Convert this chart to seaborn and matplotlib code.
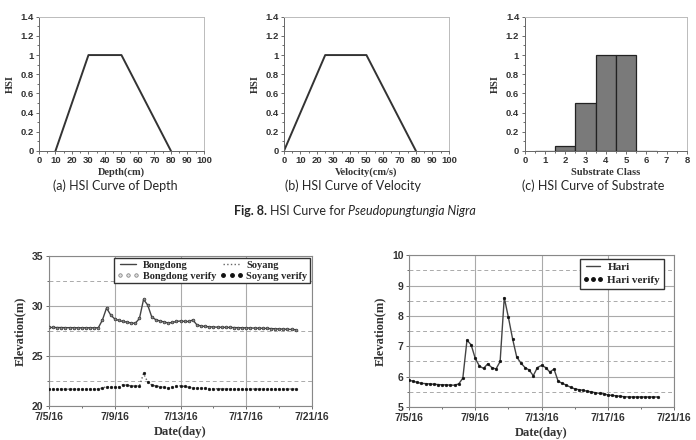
import numpy as np
import pandas as pd
import seaborn as sns
import matplotlib.pyplot as plt
import matplotlib.dates as mdates
from matplotlib.ticker import MultipleLocator, FuncFormatter
from matplotlib.lines import Line2D

sns.set_style("ticks")
plt.rcParams["font.family"] = ["Liberation Sans", "DejaVu Sans"]

# ---- HSI curves ----
depth_cm = [10, 30, 50, 80]
depth_hsi = [0, 1, 1, 0]
velocity_cms = [0, 25, 50, 80]
velocity_hsi = [0, 1, 1, 0]
substrate_class = [1, 2, 3, 4, 5, 6]
substrate_hsi = [0, 0.05, 0.5, 1.0, 1.0, 0]

# ---- water level verification (6-hourly from 7/5/16 00:00) ----
start_time = "2016-07-05 00:00"
bongdong = [27.85, 27.85, 27.84, 27.84, 27.83, 27.83, 27.83, 27.82, 27.82, 27.82, 27.82, 27.82, 27.82,
            28.6, 29.8, 29.1, 28.7, 28.55, 28.45, 28.38, 28.3, 28.27, 28.75, 30.65, 30.1, 28.9, 28.62,
            28.5, 28.4, 28.3, 28.35, 28.45, 28.5, 28.45, 28.45, 28.6,
            28.1, 28.0, 27.95, 27.92, 27.9, 27.88, 27.87, 27.86, 27.85, 27.84, 27.83, 27.82, 27.81,
            27.8, 27.79, 27.78, 27.77, 27.75, 27.74, 27.72, 27.7, 27.69, 27.67, 27.65, 27.63]
soyang = [21.68] * 13 + [
    21.8, 21.93, 21.88, 21.85, 21.9, 22.12, 22.08, 22.0, 22.0, 22.0, 23.25, 22.4, 22.1, 22.0,
    21.93, 21.85, 21.78, 21.85, 21.95, 22.02, 21.95, 21.88, 21.8,
    21.77, 21.76, 21.75, 21.74, 21.73, 21.72, 21.72, 21.71, 21.71] + [21.7] * 16
hari = [5.88, 5.85, 5.81, 5.78, 5.77, 5.76, 5.75, 5.74, 5.73, 5.73, 5.72, 5.72, 5.76,
        5.95, 7.2, 7.05, 6.6, 6.35, 6.27, 6.42, 6.3, 6.25, 6.5, 8.6, 7.95, 7.25, 6.65, 6.45,
        6.3, 6.22, 6.03, 6.3, 6.37, 6.3, 6.15, 6.25, 5.85, 5.78, 5.72, 5.65, 5.6, 5.57, 5.55,
        5.52, 5.5, 5.47, 5.45, 5.43, 5.4, 5.38, 5.37, 5.35, 5.34] + [5.33] * 8

times = pd.date_range(start_time, periods=len(hari), freq="6h")
df_wl = pd.DataFrame({"time": times, "Bongdong": bongdong, "Soyang": soyang, "Hari": hari})

serif_bold = dict(family="Liberation Serif", fontweight="bold")
cap_font = dict(family="Lato", fontsize=9)

fig = plt.figure(figsize=(6.96, 4.4), dpi=100)


def style_hsi(ax, xmax, xstep, xminor, xlabel):
    ax.set_xlim(0, xmax)
    ax.set_ylim(0, 1.4)
    ax.xaxis.set_major_locator(MultipleLocator(xstep))
    ax.xaxis.set_minor_locator(MultipleLocator(xminor))
    ax.yaxis.set_major_locator(MultipleLocator(0.2))
    ax.yaxis.set_minor_locator(MultipleLocator(0.1))
    ax.yaxis.set_major_formatter(FuncFormatter(lambda v, p: f"{v:g}"))
    ax.tick_params(which="both", direction="out", length=2.5, width=0.6, color="#555555",
                   labelsize=6.8, pad=1.5)
    ax.tick_params(which="minor", length=1.5)
    for lab in ax.get_xticklabels() + ax.get_yticklabels():
        lab.set_fontweight("bold")
        lab.set_color("#333333")
    for side in ["top", "right"]:
        ax.spines[side].set_color("#bbbbbb")
    for side in ["left", "bottom"]:
        ax.spines[side].set_color("#666666")
    for sp in ax.spines.values():
        sp.set_linewidth(0.7)
    ax.set_xlabel(xlabel, fontsize=7.5, labelpad=1.5, color="#333333", **serif_bold)
    ax.set_ylabel("HSI", fontsize=7.5, labelpad=4, color="#333333", **serif_bold)


ax_a = fig.add_axes([0.056, 0.657, 0.237, 0.305])
sns.lineplot(x=depth_cm, y=depth_hsi, ax=ax_a, color="#333333", linewidth=1.4)
style_hsi(ax_a, 100, 10, 5, "Depth(cm)")

ax_b = fig.add_axes([0.408, 0.657, 0.237, 0.305])
sns.lineplot(x=velocity_cms, y=velocity_hsi, ax=ax_b, color="#333333", linewidth=1.4)
style_hsi(ax_b, 100, 10, 5, "Velocity(cm/s)")

ax_c = fig.add_axes([0.754, 0.657, 0.233, 0.305])
sns.barplot(x=substrate_class, y=substrate_hsi, ax=ax_c, native_scale=True, width=1,
            color="#7a7a7a", edgecolor="#222222", linewidth=0.9, saturation=1)
style_hsi(ax_c, 8, 1, 0.5, "Substrate Class")

fig.text(0.165, 0.578, "(a) HSI Curve of Depth", ha="center", va="center", **cap_font)
fig.text(0.507, 0.578, "(b) HSI Curve of Velocity", ha="center", va="center", **cap_font)
fig.text(0.852, 0.578, "(c) HSI Curve of Substrate", ha="center", va="center", **cap_font)

# figure caption made of three runs (bold / regular / italic), laid out side by side
renderer = fig.canvas.get_renderer()
parts = [("Fig. 8.", dict(fontweight="bold")), ("HSI Curve for", {}),
         ("Pseudopungtungia Nigra", dict(fontstyle="italic"))]
runs = [fig.text(0, 0.52, s, ha="left", va="center", **cap_font, **kw) for s, kw in parts]
widths = [r.get_window_extent(renderer).width for r in runs]
gap = 3.0
x_px = 355 - (sum(widths) + gap * (len(runs) - 1)) / 2
for r, w in zip(runs, widths):
    r.set_x(x_px / fig.bbox.width)
    x_px += w + gap


def date_fmt(v, pos):
    d = mdates.num2date(v)
    return f"{d.month}/{d.day}/{d:%y}"


def style_wl(ax, ylo, yhi):
    ax.set_xlim(pd.Timestamp("2016-07-05"), pd.Timestamp("2016-07-21"))
    ax.set_ylim(ylo, yhi)
    ax.xaxis.set_major_locator(mdates.DayLocator(bymonthday=[5, 9, 13, 17, 21]))
    ax.xaxis.set_minor_locator(mdates.DayLocator(bymonthday=[7, 11, 15, 19]))
    ax.xaxis.set_major_formatter(FuncFormatter(date_fmt))
    step = (yhi - ylo) / 3 if yhi - ylo > 10 else 1
    ax.yaxis.set_major_locator(MultipleLocator(step))
    ax.yaxis.set_minor_locator(MultipleLocator(step / 2))
    ax.grid(which="major", axis="both", color="#aaaaaa", linewidth=0.8, linestyle="-")
    ax.grid(which="minor", axis="y", color="#aaaaaa", linewidth=0.7, linestyle=(0, (4, 3)))
    ax.set_axisbelow(True)
    ax.tick_params(which="both", direction="out", length=2.5, width=0.6, color="#555555",
                   labelsize=7.5, pad=1.5)
    ax.tick_params(which="minor", length=1.5)
    for lab in ax.get_xticklabels() + ax.get_yticklabels():
        lab.set_fontweight("bold")
        lab.set_color("#333333")
    for sp in ax.spines.values():
        sp.set_color("#888888")
        sp.set_linewidth(0.8)
    ax.set_xlabel("Date(day)", fontsize=9, labelpad=3, color="#333333", **serif_bold)
    ax.set_ylabel("Elevation(m)", fontsize=9, labelpad=4, color="#333333", **serif_bold)


ax_l = fig.add_axes([0.0704, 0.0773, 0.378, 0.341])
sns.lineplot(data=df_wl, x="time", y="Bongdong", ax=ax_l, color="#444444", linewidth=1.0)
sns.lineplot(data=df_wl, x="time", y="Soyang", ax=ax_l, color="#666666", linewidth=1.0,
             linestyle=":")
sns.scatterplot(data=df_wl, x="time", y="Bongdong", ax=ax_l, marker="o", s=4,
                color="#8a8a8a", edgecolor="#333333", linewidth=0.5, zorder=3)
sns.scatterplot(data=df_wl, x="time", y="Soyang", ax=ax_l, marker="o", s=4,
                color="#111111", edgecolor="#111111", linewidth=0.3, zorder=3)
style_wl(ax_l, 20, 35)
handles_l = [
    Line2D([], [], color="#444444", linewidth=1.0),
    Line2D([], [], linestyle="none", marker="o", markersize=2.5, markerfacecolor="#dddddd",
           markeredgecolor="#777777", markeredgewidth=0.5),
    Line2D([], [], color="#666666", linewidth=1.0, linestyle=":"),
    Line2D([], [], linestyle="none", marker="o", markersize=2.5, color="#111111"),
]
labels_l = ["Bongdong", "Bongdong verify", "Soyang", "Soyang verify"]
ax_l.legend(handles_l, labels_l, ncol=2, loc="upper right", numpoints=3, fancybox=False,
            framealpha=1, edgecolor="#333333", borderpad=0.25, handlelength=2.2,
            handletextpad=0.3, columnspacing=0.4, labelspacing=0.15, borderaxespad=0.2,
            prop=dict(family="Liberation Serif", weight="bold", size=7.5))

ax_r = fig.add_axes([0.5876, 0.075, 0.381, 0.345])
sns.lineplot(data=df_wl, x="time", y="Hari", ax=ax_r, color="#444444", linewidth=1.0)
sns.scatterplot(data=df_wl, x="time", y="Hari", ax=ax_r, marker="o", s=4,
                color="#111111", edgecolor="#111111", linewidth=0.3, zorder=3)
style_wl(ax_r, 5, 10)
handles_r = [
    Line2D([], [], color="#444444", linewidth=1.0),
    Line2D([], [], linestyle="none", marker="o", markersize=2.5, color="#111111"),
]
ax_r.legend(handles_r, ["Hari", "Hari verify"], loc="upper right", numpoints=3, fancybox=False,
            framealpha=1, edgecolor="#333333", borderpad=0.3, handlelength=1.8,
            handletextpad=0.4, labelspacing=0.3, borderaxespad=0,
            bbox_to_anchor=(0.96, 0.974),
            prop=dict(family="Liberation Serif", weight="bold", size=8))

fig.savefig("out.png", dpi=100)
